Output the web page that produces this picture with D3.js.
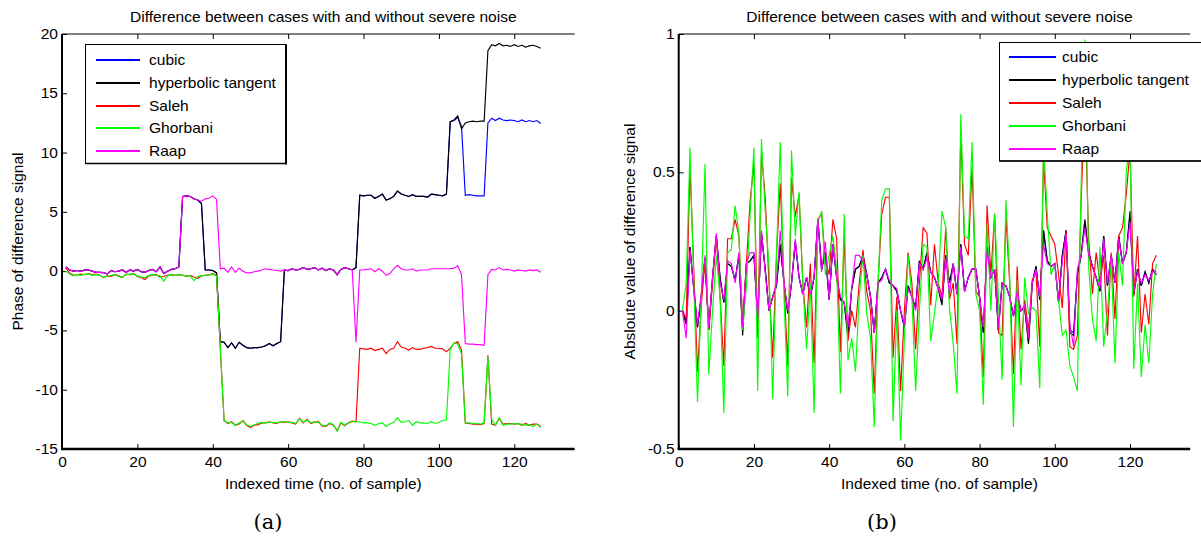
<!DOCTYPE html>
<html>
<head>
<meta charset="utf-8">
<script src="https://cdnjs.cloudflare.com/ajax/libs/d3/7.8.5/d3.min.js"></script>
<style>
body { margin: 0; background: #fff; }
svg text { font-family: "Liberation Sans", Arial, sans-serif; fill: #000; }
</style>
</head>
<body>
<svg id="chart" width="1201" height="540"></svg>
<script>
// series names, in plot order
var seriesNames = ["cubic", "hyperbolic tangent", "Saleh", "Ghorbani", "Raap"];
var seriesColors = ["#0000ff", "#000000", "#ff0000", "#00ff00", "#ff00ff"];

// (a) phase of difference signal, samples 1..127
var cubicA = [0.35,0.1,0.0,0.05,0.0,0.08,0.1,0.0,-0.1,-0.1,
	-0.12,-0.25,0.05,-0.05,0.0,0.1,-0.1,0.1,0.0,0.15,
	-0.05,-0.1,0.05,0.15,-0.05,0.35,-0.2,0.0,0.15,0.2,
	0.35,6.3,6.35,6.3,6.1,6.0,5.7,0.1,0.1,0.05,
	-0.15,-5.95,-6.0,-6.45,-6.05,-6.5,-6.0,-6.25,-6.45,-6.5,
	-6.45,-6.45,-6.4,-6.3,-6.1,-6.3,-6.1,-5.95,0.1,0.05,
	0.2,0.1,0.15,0.3,0.15,0.2,0.3,0.1,0.25,0.05,
	0.2,0.1,-0.3,0.15,0.3,0.2,0.1,0.3,6.4,6.35,
	6.4,6.4,6.15,6.3,6.5,6.0,6.1,6.3,6.75,6.5,
	6.4,6.3,6.45,6.3,6.3,6.3,6.25,6.5,6.45,6.4,
	6.35,6.5,12.6,12.7,12.95,12.2,6.4,6.45,6.4,6.35,
	6.35,6.35,12.5,12.9,12.7,12.9,12.75,12.7,12.75,12.7,
	12.6,12.75,12.6,12.7,12.6,12.7,12.45];
var tanhA = [0.35,0.1,0.0,0.05,0.0,0.08,0.1,0.0,-0.1,-0.1,
	-0.12,-0.25,0.05,-0.05,0.0,0.1,-0.1,0.1,0.0,0.15,
	-0.05,-0.1,0.05,0.15,-0.05,0.35,-0.2,0.0,0.15,0.2,
	0.35,6.3,6.35,6.3,6.1,6.0,5.7,0.1,0.1,0.05,
	-0.15,-5.95,-6.0,-6.45,-6.05,-6.5,-6.0,-6.25,-6.45,-6.5,
	-6.45,-6.45,-6.4,-6.3,-6.1,-6.3,-6.1,-5.95,0.1,0.05,
	0.2,0.1,0.15,0.3,0.15,0.2,0.3,0.1,0.25,0.05,
	0.2,0.1,-0.3,0.15,0.3,0.2,0.1,0.3,6.4,6.35,
	6.4,6.4,6.15,6.3,6.5,6.0,6.1,6.3,6.75,6.5,
	6.4,6.3,6.45,6.3,6.3,6.3,6.25,6.5,6.45,6.4,
	6.35,6.5,12.6,12.75,13.1,12.0,12.5,12.6,12.65,12.6,
	12.65,12.65,18.6,19.1,19.0,19.2,19.0,19.05,18.95,19.1,
	18.95,19.05,18.9,19.0,19.05,18.95,18.8];
var salehA = [0.25,-0.15,-0.35,-0.3,-0.25,-0.3,-0.2,-0.3,-0.25,-0.35,
	-0.55,-0.4,-0.45,-0.3,-0.4,-0.55,-0.25,-0.3,-0.2,-0.45,
	-0.55,-0.7,-0.4,-0.35,-0.3,-0.5,-0.45,-0.35,-0.3,-0.35,
	-0.3,-0.35,-0.45,-0.35,-0.5,-0.6,-0.4,-0.35,-0.3,-0.2,
	-0.35,-6.5,-12.6,-12.85,-12.7,-13.0,-12.9,-12.6,-13.0,-13.2,
	-13.0,-12.95,-12.8,-12.8,-12.7,-12.8,-12.85,-12.7,-12.75,-12.7,
	-12.8,-12.9,-12.4,-12.8,-12.5,-12.85,-12.75,-12.7,-13.05,-13.1,
	-12.85,-13.0,-13.45,-12.8,-13.05,-12.8,-12.65,-12.7,-6.5,-6.55,
	-6.6,-6.5,-6.7,-6.6,-6.5,-6.95,-6.6,-6.5,-5.95,-6.4,
	-6.5,-6.65,-6.45,-6.6,-6.6,-6.5,-6.45,-6.35,-6.5,-6.5,
	-6.55,-6.8,-6.5,-6.1,-5.95,-6.65,-12.8,-12.85,-12.9,-12.9,
	-12.95,-12.85,-7.1,-12.9,-13.0,-12.4,-12.9,-12.85,-12.85,-12.9,
	-12.85,-13.0,-12.85,-13.0,-12.9,-12.9,-13.1];
var ghorbaniA = [0.0,-0.25,-0.4,-0.3,-0.35,-0.25,-0.25,-0.35,-0.3,-0.35,
	-0.5,-0.45,-0.35,-0.3,-0.45,-0.5,-0.3,-0.25,-0.25,-0.4,
	-0.5,-0.55,-0.35,-0.3,-0.35,-0.4,-0.85,-0.4,-0.3,-0.35,
	-0.3,-0.35,-0.4,-0.4,-0.8,-0.45,-0.4,-0.35,-0.35,-0.25,
	-0.4,-6.4,-12.6,-12.8,-12.75,-13.0,-12.8,-12.65,-12.95,-13.1,
	-12.95,-12.85,-12.75,-12.8,-12.75,-12.75,-12.8,-12.7,-12.7,-12.75,
	-12.75,-12.85,-12.45,-12.75,-12.55,-12.8,-12.7,-12.75,-13.0,-13.05,
	-12.8,-12.95,-13.5,-12.75,-13.0,-12.75,-12.7,-12.7,-12.7,-12.8,
	-12.8,-12.85,-13.0,-12.85,-12.8,-13.1,-12.9,-12.75,-12.35,-12.75,
	-12.7,-12.6,-13.0,-12.7,-12.8,-12.8,-12.85,-12.7,-12.85,-12.75,
	-12.6,-12.55,-6.6,-6.05,-6.15,-7.0,-12.8,-12.8,-12.85,-12.85,
	-12.9,-12.8,-7.2,-12.5,-13.0,-12.35,-13.0,-12.9,-12.9,-12.85,
	-12.9,-12.9,-13.0,-12.95,-13.1,-12.9,-13.2];
var raapA = [0.35,0.1,0.0,0.05,0.0,0.08,0.1,0.0,-0.1,-0.1,
	-0.12,-0.25,0.05,-0.05,0.0,0.1,-0.1,0.1,0.0,0.15,
	-0.05,-0.1,0.05,0.15,-0.05,0.35,-0.2,0.0,0.15,0.2,
	0.35,6.3,6.35,6.3,6.1,6.0,5.9,6.1,6.15,6.35,
	6.05,0.2,0.25,-0.1,0.35,-0.1,0.25,0.0,-0.15,-0.15,
	-0.05,0.0,0.1,0.2,0.15,0.1,0.05,0.0,0.1,0.05,
	0.2,0.1,0.15,0.3,0.15,0.2,0.3,0.1,0.25,0.05,
	0.2,0.1,-0.3,0.15,0.3,0.2,0.1,-6.0,0.1,0.1,
	0.15,0.2,-0.05,0.2,0.0,-0.35,-0.2,0.2,0.5,0.2,
	0.1,0.1,0.2,0.0,0.1,0.1,0.1,0.2,0.2,0.2,
	0.2,0.2,0.2,0.25,0.45,-0.3,-6.1,-6.15,-6.15,-6.2,
	-6.2,-6.25,-0.3,0.15,0.1,0.3,0.1,0.15,0.1,0.0,
	0.1,0.05,0.0,0.1,0.05,0.1,-0.1];

// (b) absolute value of difference signal, samples 1..127
var cubicB = [0.0,-0.04,0.23,0.08,-0.06,0.05,0.19,-0.07,0.12,0.27,
	0.12,0.03,0.17,0.16,0.11,0.2,-0.07,0.17,0.18,0.2,
	-0.03,0.28,0.15,0.0,0.05,0.09,0.24,0.1,-0.01,0.1,
	0.25,0.12,0.06,0.12,0.05,0.12,0.33,0.15,0.21,0.04,
	0.24,0.12,0.04,0.03,-0.08,0.08,0.15,0.16,0.2,0.13,
	0.05,-0.08,0.1,0.12,0.15,0.1,0.09,0.07,0.0,-0.06,
	0.09,0.05,0.01,0.18,0.15,0.21,0.14,0.12,0.08,0.03,
	0.2,0.1,0.17,0.06,0.24,0.07,0.12,0.15,0.15,0.05,
	-0.08,0.23,0.12,0.15,-0.07,0.1,0.09,0.05,-0.02,0.06,
	0.0,0.01,-0.11,0.1,0.16,0.04,0.29,0.18,0.16,0.17,
	0.03,0.2,0.29,-0.07,-0.08,0.13,0.2,0.32,0.21,0.16,
	0.12,0.07,0.27,0.09,0.2,0.1,0.27,0.17,0.21,0.34,
	0.06,0.15,0.09,0.14,0.1,0.15,0.13];
var tanhB = [0.0,-0.05,0.23,0.08,-0.06,0.05,0.19,-0.07,0.12,0.27,
	0.12,0.03,0.17,0.16,0.11,0.2,-0.09,0.17,0.18,0.2,
	-0.03,0.28,0.15,0.0,0.05,0.09,0.24,0.1,-0.01,0.1,
	0.25,0.12,0.06,0.12,0.05,0.12,0.33,0.15,0.21,0.04,
	0.24,0.12,0.04,0.03,-0.1,0.08,0.15,0.16,0.2,0.13,
	0.05,-0.08,0.1,0.12,0.15,0.1,0.09,0.07,0.0,-0.06,
	0.09,0.05,0.01,0.18,0.15,0.21,0.14,0.12,0.08,0.02,
	0.2,0.1,0.17,0.06,0.24,0.07,0.12,0.15,0.15,0.05,
	-0.08,0.23,0.12,0.15,-0.07,0.1,0.09,0.05,-0.02,0.06,
	0.0,0.01,-0.12,0.1,0.16,0.04,0.29,0.18,0.16,0.17,
	0.03,0.2,0.29,-0.08,-0.09,0.13,0.2,0.33,0.21,0.16,
	0.12,0.07,0.27,0.09,0.2,0.1,0.27,0.17,0.21,0.36,
	0.06,0.15,0.09,0.14,0.1,0.15,0.13];
var salehB = [0.0,-0.03,0.52,0.15,-0.22,0.02,0.18,-0.07,0.1,0.27,
	0.05,-0.2,0.26,0.26,0.33,0.27,-0.04,0.17,0.4,0.53,
	-0.1,0.57,0.41,0.1,-0.17,0.2,0.46,0.1,-0.2,0.48,
	0.34,0.42,0.1,-0.06,0.17,-0.19,0.33,0.35,0.18,0.13,
	0.33,0.26,-0.15,0.27,-0.11,0.0,-0.06,0.1,0.22,0.07,
	0.0,-0.3,0.1,0.35,0.41,0.41,-0.17,0.05,-0.29,0.0,
	0.21,0.1,-0.14,0.1,0.3,0.28,0.02,0.24,0.1,0.05,
	0.3,0.04,0.1,-0.12,0.65,0.24,0.2,0.52,0.07,0.05,
	-0.24,0.38,0.13,0.35,-0.08,-0.09,0.34,0.1,-0.23,0.16,
	-0.14,0.04,-0.07,0.11,0.14,-0.13,0.55,0.3,0.27,0.24,
	0.13,0.01,0.29,-0.13,-0.14,-0.09,0.4,0.75,0.26,0.06,
	0.21,0.1,0.2,-0.09,0.21,-0.03,0.27,0.3,0.42,0.58,
	0.05,0.27,-0.08,0.06,-0.05,0.17,0.2];
var ghorbaniB = [0.0,0.1,0.59,0.1,-0.33,0.05,0.53,-0.23,0.0,0.2,
	0.05,-0.37,0.21,0.22,0.38,0.28,-0.07,0.09,0.35,0.59,
	-0.29,0.62,0.36,0.16,-0.32,0.2,0.61,0.05,-0.31,0.58,
	0.27,0.43,0.1,-0.14,0.1,-0.37,0.32,0.36,0.13,0.2,
	0.27,0.15,-0.3,0.35,-0.18,-0.1,-0.22,0.05,0.2,-0.01,
	-0.1,-0.42,0.1,0.4,0.44,0.44,-0.4,0.0,-0.47,-0.1,
	0.2,0.05,-0.29,0.0,0.24,0.23,-0.11,-0.01,0.1,0.36,
	0.3,0.01,-0.12,-0.3,0.71,0.27,0.26,0.61,0.06,0.0,
	-0.34,0.31,0.0,0.35,0.05,-0.25,0.4,0.13,-0.42,0.11,
	-0.27,0.12,-0.01,0.01,0.0,-0.28,0.6,0.35,0.13,0.17,
	0.04,-0.09,-0.07,-0.2,-0.24,-0.29,0.45,0.98,0.16,-0.03,
	-0.11,0.23,-0.13,0.0,0.18,-0.19,0.21,0.09,0.5,0.62,
	-0.21,0.1,-0.24,-0.05,-0.19,0.06,0.17];
var raapB = [0.0,-0.1,0.22,0.08,-0.05,0.06,0.2,-0.06,0.12,0.28,
	0.1,0.04,0.18,0.17,0.1,0.21,-0.06,0.17,0.21,0.21,
	-0.03,0.29,0.14,0.0,0.05,0.1,0.29,0.1,0.0,0.1,
	0.26,0.12,0.06,0.12,0.06,0.12,0.33,0.14,0.25,0.04,
	0.24,0.12,0.05,0.03,-0.06,0.08,0.2,0.2,0.18,0.13,
	0.05,-0.08,0.1,0.11,0.15,0.11,0.09,0.08,0.0,-0.05,
	0.08,0.05,0.0,0.17,0.15,0.19,0.14,0.12,0.08,0.04,
	0.19,0.06,0.17,0.06,0.23,0.07,0.12,0.15,0.15,0.05,
	-0.06,0.22,0.12,0.15,-0.06,0.1,0.09,0.05,-0.02,0.07,
	0.0,0.02,-0.1,0.1,0.15,0.05,0.24,0.17,0.16,0.17,
	0.04,0.18,0.28,-0.05,-0.13,0.15,0.2,0.3,0.2,0.16,
	0.12,0.08,0.26,0.1,0.2,0.1,0.26,0.17,0.21,0.32,
	0.07,0.14,0.1,0.13,0.11,0.14,0.14];

// axis ticks and labels
var xTicks = [0, 20, 40, 60, 80, 100, 120];
var yTicksA = [-15, -10, -5, 0, 5, 10, 15, 20];
var yTicksB = [-0.5, 0, 0.5, 1];
var titleText = "Difference between cases with and without severe noise";
var xLabelText = "Indexed time (no. of sample)";
var yLabelA = "Phase of difference signal";
var yLabelB = "Absloute value of difference signal";

var SX = 1.11; // horizontal stretch of the original figure's text

var svg = d3.select("#chart");

function stretch(sel) {
	sel.each(function() {
		var t = d3.select(this);
		var tx = +t.attr("x") || 0, ty = +t.attr("y") || 0;
		t.attr("x", 0).attr("y", 0)
			.attr("transform", "translate(" + tx + "," + ty + ") scale(" + SX + ",1)");
	});
}

var panels = [
	{left: 62, right: 574.6, yDomain: [-15, 20], yTicks: yTicksA, yLabel: yLabelA, yLabelX: 23,
		series: [cubicA, tanhA, salehA, ghorbaniA, raapA],
		legend: {x: 85.5, y: 44.5, w: 200.5, h: 119, row0: 60, dy: 22.75, lx0: 96, lx1: 140, tx: 149},
		tag: "(a)", tagX: 268},
	{left: 678.7, right: 1190.2, yDomain: [-0.5, 1], yTicks: yTicksB, yLabel: yLabelB, yLabelX: 635,
		series: [cubicB, tanhB, salehB, ghorbaniB, raapB],
		legend: {x: 999.5, y: 42.5, w: 240, h: 118.5, row0: 57, dy: 22.9, lx0: 1009, lx1: 1056, tx: 1062},
		tag: "(b)", tagX: 882}
];

var plotTop = 34, plotBottom = 449;

panels.forEach(function(p) {
	var x = d3.scaleLinear().domain([0, 136]).range([p.left, p.right]);
	var y = d3.scaleLinear().domain(p.yDomain).range([plotBottom, plotTop]);
	var g = svg.append("g");

	// ticks
	g.append("g")
		.attr("transform", "translate(0," + plotBottom + ")")
		.call(d3.axisBottom(x).tickValues(xTicks).tickSize(-5).tickSizeOuter(0).tickPadding(8))
		.call(function(a) { a.select(".domain").remove(); })
		.attr("font-size", 14).attr("font-family", null)
		.selectAll("text").call(stretch);
	g.append("g")
		.attr("transform", "translate(0," + plotTop + ")")
		.call(d3.axisTop(x).tickValues(xTicks).tickSize(-5).tickSizeOuter(0).tickFormat(""))
		.call(function(a) { a.select(".domain").remove(); });
	g.append("g")
		.attr("transform", "translate(" + p.left + ",0)")
		.call(d3.axisLeft(y).tickValues(p.yTicks).tickSize(-5).tickSizeOuter(0).tickPadding(4)
			.tickFormat(function(d) { return String(d); }))
		.call(function(a) { a.select(".domain").remove(); })
		.attr("font-size", 14).attr("font-family", null)
		.selectAll("text").call(stretch);

	// axis lines
	g.append("line").attr("x1", p.left).attr("x2", p.right).attr("y1", plotTop).attr("y2", plotTop)
		.attr("stroke", "#000").attr("stroke-width", 1);
	g.append("line").attr("x1", p.left).attr("x2", p.left).attr("y1", plotTop).attr("y2", plotBottom + 1)
		.attr("stroke", "#000").attr("stroke-width", 2);
	g.append("line").attr("x1", p.left - 1).attr("x2", p.right).attr("y1", plotBottom).attr("y2", plotBottom)
		.attr("stroke", "#000").attr("stroke-width", 2.5);

	// data
	var line = d3.line()
		.x(function(d, i) { return x(i + 1); })
		.y(function(d) { return y(d); });
	p.series.forEach(function(s, k) {
		g.append("path").datum(s)
			.attr("fill", "none")
			.attr("stroke", seriesColors[k])
			.attr("stroke-width", 1.15)
			.attr("d", line);
	});

	// titles
	var cx = (p.left + p.right) / 2 + 5;
	g.append("text").attr("x", cx).attr("y", 21.5).attr("text-anchor", "middle")
		.style("font-size", "14px").text(titleText).call(stretch);
	g.append("text").attr("x", cx).attr("y", 489).attr("text-anchor", "middle")
		.style("font-size", "14px").text(xLabelText).call(stretch);
	g.append("text")
		.attr("transform", "translate(" + p.yLabelX + "," + ((plotTop + plotBottom) / 2) + ") rotate(-90)")
		.attr("text-anchor", "middle")
		.style("font-size", "15.5px").text(p.yLabel);
	g.append("text").attr("x", p.tagX).attr("y", 529).attr("text-anchor", "middle")
		.style("font-family", "'DejaVu Serif', serif").style("font-size", "21px").text(p.tag);

	// legend
	var L = p.legend;
	var lg = g.append("g");
	lg.append("rect").attr("x", L.x).attr("y", L.y).attr("width", L.w).attr("height", L.h)
		.attr("fill", "#fff").attr("stroke", "#000").attr("stroke-width", 1);
	lg.append("line").attr("x1", L.x + L.w).attr("x2", L.x + L.w).attr("y1", L.y).attr("y2", L.y + L.h + 1)
		.attr("stroke", "#000").attr("stroke-width", 2);
	lg.append("line").attr("x1", L.x).attr("x2", L.x + L.w).attr("y1", L.y + L.h).attr("y2", L.y + L.h)
		.attr("stroke", "#000").attr("stroke-width", 1.5);
	seriesNames.forEach(function(name, k) {
		var ry = Math.round(L.row0 + k * L.dy);
		lg.append("line").attr("x1", L.lx0).attr("x2", L.lx1).attr("y1", ry).attr("y2", ry)
			.attr("stroke", seriesColors[k]).attr("stroke-width", 2);
		lg.append("text").attr("x", L.tx).attr("y", ry + 5)
			.style("font-size", "14px").text(name).call(stretch);
	});
});
</script>
</body>
</html>
